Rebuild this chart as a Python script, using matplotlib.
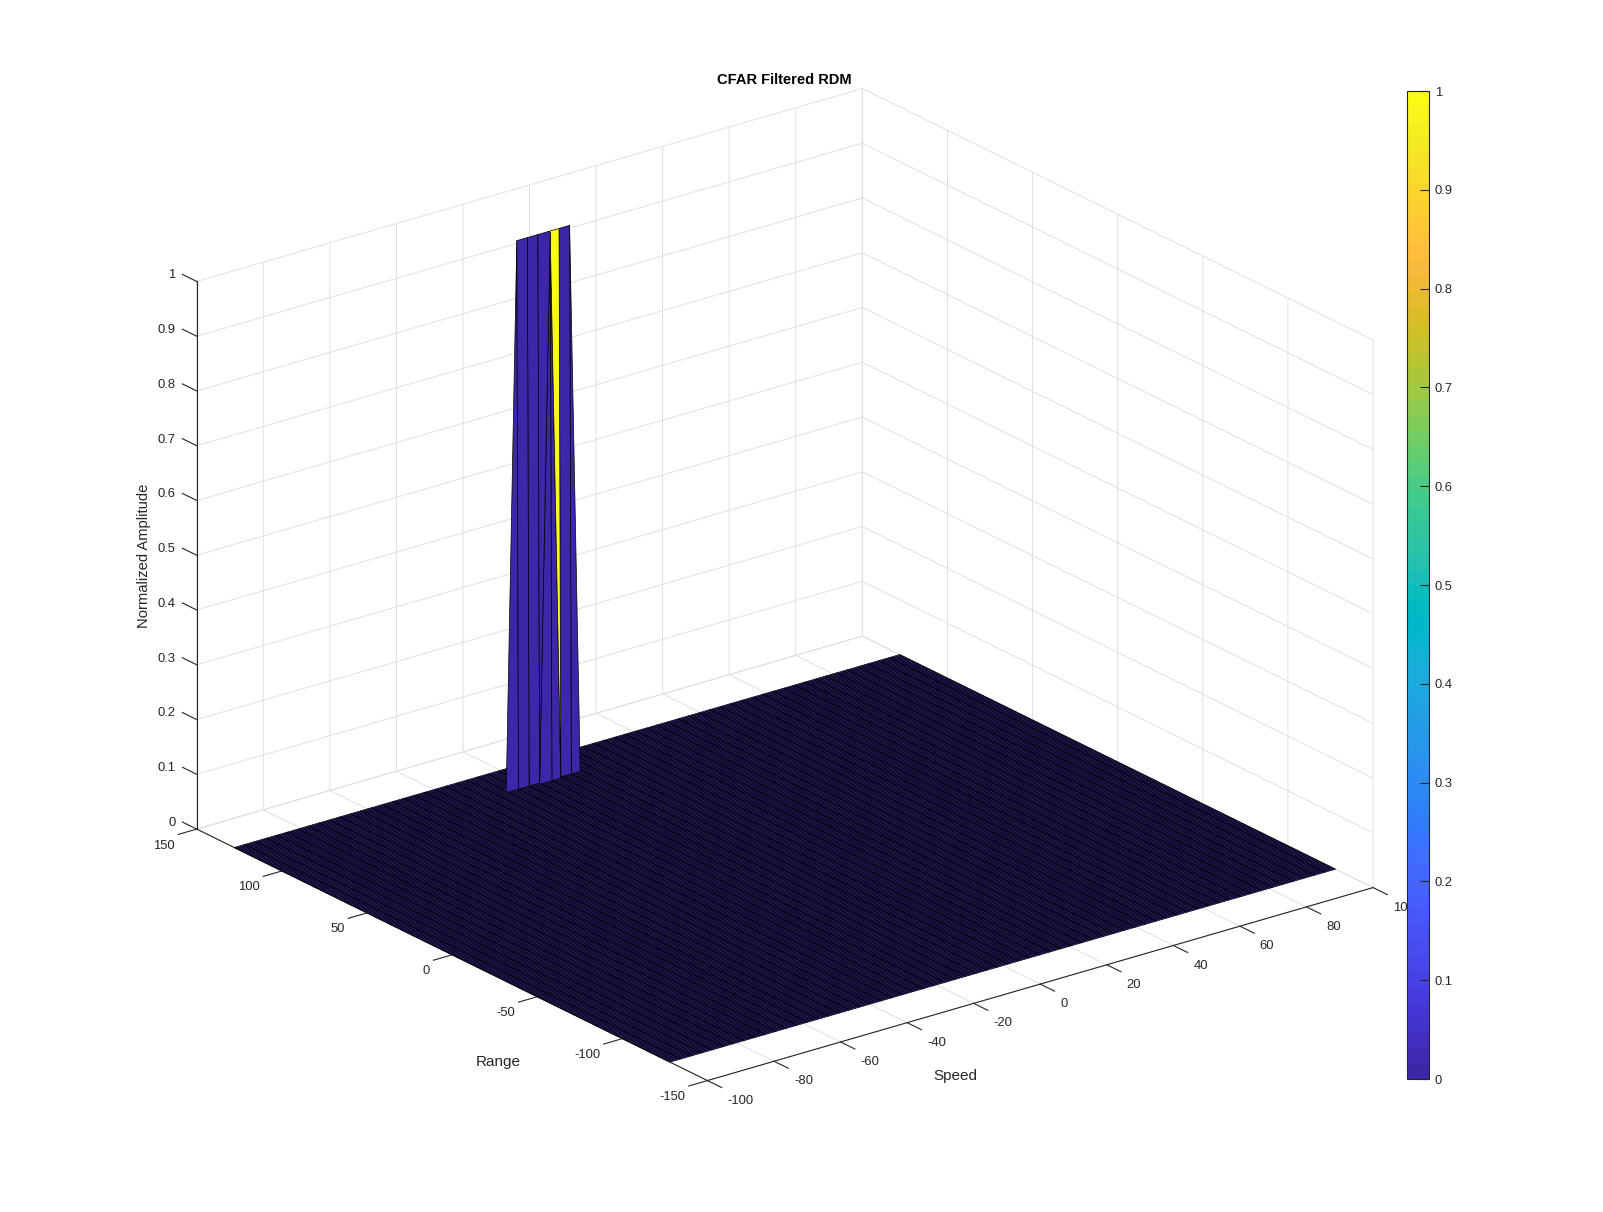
import numpy as np
import matplotlib
matplotlib.use("Agg")
import matplotlib.pyplot as plt
from matplotlib.colors import ListedColormap, Normalize
from matplotlib.cm import ScalarMappable
from matplotlib.transforms import Affine2D

plt.rcParams['font.family'] = ['Liberation Sans', 'DejaVu Sans']
plt.rcParams['axes.unicode_minus'] = False

# ---- data ----
speed_axis = np.linspace(-100, 100, 64)
range_axis = np.linspace(-128, 128, 256)
peak_row = 238
peak_cols = [24, 25, 26, 27, 28, 29]
front_row = 237
front_cols = [27]
speed_ticks = [-100, -80, -60, -40, -20, 0, 20, 40, 60, 80, 100]
range_ticks = [-150, -100, -50, 0, 50, 100, 150]
amp_ticks = [0, 0.1, 0.2, 0.3, 0.4, 0.5, 0.6, 0.7, 0.8, 0.9, 1]
amp_labels = ['0', '0.1', '0.2', '0.3', '0.4', '0.5', '0.6', '0.7', '0.8', '0.9', '1']
parula_rgb = [
 [0.2422,0.1504,0.6603],[0.2504,0.1650,0.7076],[0.2578,0.1818,0.7511],[0.2647,0.1978,0.7952],
 [0.2706,0.2147,0.8364],[0.2751,0.2342,0.8710],[0.2783,0.2559,0.8991],[0.2803,0.2782,0.9221],
 [0.2813,0.3006,0.9414],[0.2810,0.3228,0.9579],[0.2795,0.3447,0.9717],[0.2760,0.3667,0.9829],
 [0.2699,0.3892,0.9906],[0.2602,0.4123,0.9952],[0.2440,0.4358,0.9988],[0.2206,0.4603,0.9973],
 [0.1963,0.4847,0.9892],[0.1834,0.5074,0.9798],[0.1786,0.5289,0.9682],[0.1764,0.5499,0.9520],
 [0.1687,0.5703,0.9359],[0.1540,0.5902,0.9218],[0.1460,0.6091,0.9079],[0.1380,0.6276,0.8973],
 [0.1248,0.6459,0.8883],[0.1113,0.6635,0.8763],[0.0952,0.6798,0.8598],[0.0689,0.6948,0.8394],
 [0.0297,0.7082,0.8163],[0.0036,0.7203,0.7917],[0.0067,0.7312,0.7660],[0.0433,0.7411,0.7394],
 [0.0964,0.7500,0.7120],[0.1408,0.7584,0.6842],[0.1717,0.7670,0.6554],[0.1938,0.7758,0.6251],
 [0.2161,0.7843,0.5923],[0.2470,0.7918,0.5567],[0.2906,0.7973,0.5188],[0.3406,0.8008,0.4789],
 [0.3909,0.8029,0.4354],[0.4456,0.8024,0.3909],[0.5044,0.7993,0.3480],[0.5616,0.7942,0.3045],
 [0.6174,0.7876,0.2612],[0.6720,0.7793,0.2227],[0.7242,0.7698,0.1910],[0.7738,0.7598,0.1646],
 [0.8203,0.7498,0.1535],[0.8634,0.7406,0.1596],[0.9035,0.7330,0.1774],[0.9393,0.7288,0.2100],
 [0.9728,0.7298,0.2394],[0.9956,0.7434,0.2371],[0.9970,0.7659,0.2199],[0.9952,0.7893,0.2028],
 [0.9892,0.8136,0.1885],[0.9786,0.8386,0.1766],[0.9676,0.8639,0.1643],[0.9610,0.8890,0.1537],
 [0.9597,0.9135,0.1423],[0.9628,0.9373,0.1265],[0.9691,0.9606,0.1064],[0.9769,0.9839,0.0805]]

parula = ListedColormap(parula_rgb, name='parula')
norm = Normalize(0, 1)
X, Y = np.meshgrid(speed_axis, range_axis)
Z = np.zeros_like(X)
Z[peak_row, peak_cols] = 1.0
Z[front_row, front_cols] = 1.0

# Faces behind the ridge are hidden in the original; painter's sorting would let
# them through, so they are made fully transparent (faces and edges).
C = Z.copy()
C[peak_row, :] = 0.0
face_rgba = parula(norm(C))
hidden_cols = np.arange(peak_cols[0] - 1, peak_cols[-1] + 1)
face_rgba[peak_row, hidden_cols, 3] = 0.0
edge_rgba = np.tile([0.0, 0.0, 0.0, 1.0], ((Z.shape[0] - 1) * (Z.shape[1] - 1), 1))
edge_rgba[peak_row * (Z.shape[1] - 1) + hidden_cols, 3] = 0.0

W, H = 1603, 1212
fig = plt.figure(figsize=(W / 100, H / 100), dpi=100, facecolor='white')
S = 1287
ax = fig.add_axes([124 / W, -33.4 / H, S / W, S / H], projection='3d', proj_type='ortho')
ax.view_init(elev=22.2, azim=-127.5)
ax.set_box_aspect((1, 1, 0.705))
ax.set_xlim(-100, 100, view_margin=0)
ax.set_ylim(-150, 150, view_margin=0)
ax.set_zlim(0, 1, view_margin=0)

surf = ax.plot_surface(X, Y, Z, facecolors=face_rgba, rstride=1, cstride=1,
                       shade=False, edgecolor='black', linewidth=0.5, antialiased=True)
surf.set_edgecolor(edge_rgba)

ink = (0.15, 0.15, 0.15)
for axis, ticks in ((ax.xaxis, speed_ticks), (ax.yaxis, range_ticks), (ax.zaxis, amp_ticks)):
    axis.set_ticks(ticks)
    axis.set_pane_color((1, 1, 1, 1))
    axis.pane.set_edgecolor('none')
    axis.line.set_color(ink)
    axis.line.set_linewidth(0.8)
    axis._axinfo['grid'].update(color=(0.87, 0.87, 0.87), linewidth=0.65)
    axis._axinfo['tick'].update(inward_factor=0.35, outward_factor=0.0,
                                linewidth={True: 0.8, False: 0.8}, color=ink)
ax.zaxis.set_ticklabels(amp_labels)
ax.zaxis._axinfo['tick'].update(inward_factor=0.0, outward_factor=0.35)
ax.zaxis._get_tickdir = lambda position: 1
ax.tick_params(axis='both', labelsize=9.4, labelcolor=ink, color=ink)
ax.tick_params(axis='z', labelsize=9.4, labelcolor=ink, color=ink)


def nudge(axis, ha, dx, dy):
    original = axis.get_major_ticks

    def patched(numticks=None):
        ticks = original(numticks)
        for tick in ticks:
            tick.label1.set_ha(ha)
            tick.label1.set_transform(ax.transData + Affine2D().translate(dx, dy))
        return ticks
    axis.get_major_ticks = patched


nudge(ax.xaxis, 'left', 7.7, 5)
nudge(ax.yaxis, 'right', -6.1, 7.2)
nudge(ax.zaxis, 'right', 7, 10.7)

fig.text(784.6 / W, 1 - 80 / H, 'CFAR Filtered RDM', ha='center', va='center', fontsize=10.5, fontweight='bold', color='black')
fig.text(955 / W, 1 - 1076 / H, 'Speed', ha='center', va='center', fontsize=11, color=ink)
fig.text(498 / W, 1 - 1062 / H, 'Range', ha='center', va='center', fontsize=11, color=ink)
fig.text(144 / W, 1 - 556 / H, 'Normalized Amplitude', ha='center', va='center', rotation=90, fontsize=10.6, color=ink)

cax = fig.add_axes([1407 / W, 1 - 1079 / H, 22 / W, 988 / H])
cb = fig.colorbar(ScalarMappable(norm=norm, cmap=parula), cax=cax)
cb.set_ticks(amp_ticks, labels=amp_labels)
cax.tick_params(direction='in', length=6.5, width=0.8, color=ink, labelcolor=ink, labelsize=9.4, pad=4)
cb.outline.set_edgecolor(ink)
cb.outline.set_linewidth(0.8)

fig.savefig('out.png', dpi=100)
